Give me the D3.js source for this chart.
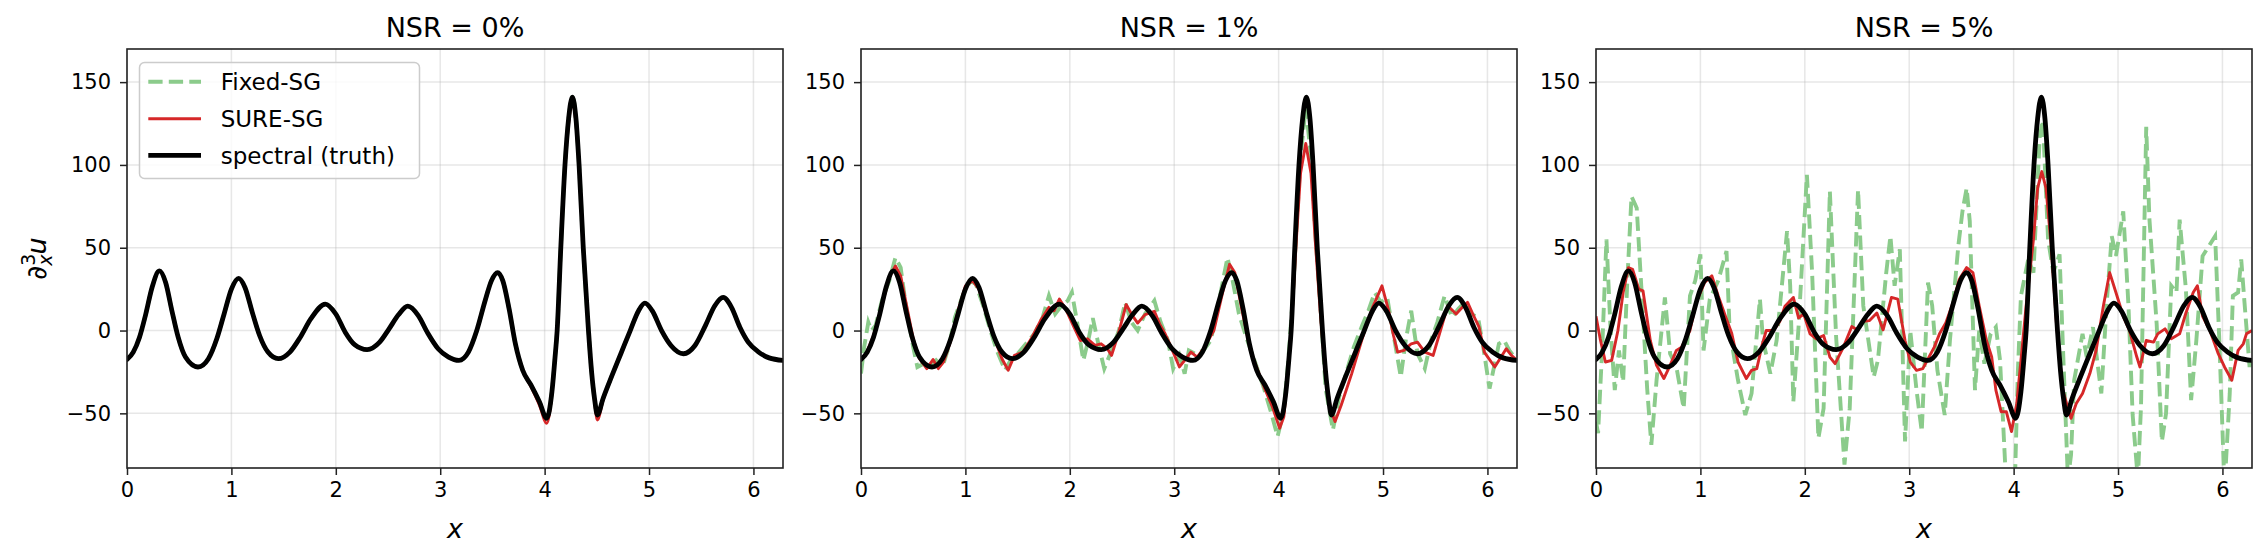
<!DOCTYPE html>
<html>
<head>
<meta charset="utf-8">
<script src="https://cdn.jsdelivr.net/npm/d3@7"></script>
<style>
  body { margin: 0; background: #fff; }
  svg { display: block; font-family: "DejaVu Sans", sans-serif; }
</style>
</head>
<body>
<svg id="chart"></svg>
<script>
// ----- DATA -----
const panelTitles = ["NSR = 0%", "NSR = 1%", "NSR = 5%"];
const seriesNames = ["Fixed-SG", "SURE-SG", "spectral (truth)"];
const xTicks = [0, 1, 2, 3, 4, 5, 6];
const yTicks = [-50, 0, 50, 100, 150];

// spectral (truth), same in all panels
const truth = [
  [0.00, -17.5], [0.06, -13], [0.12, -4], [0.18, 10], [0.24, 26], [0.31, 36], [0.37, 29],
  [0.43, 12], [0.49, -4], [0.56, -16], [0.68, -22], [0.78, -17], [0.86, -5], [0.93, 10],
  [1.00, 25], [1.07, 31.5], [1.13, 26], [1.20, 11], [1.27, -3], [1.35, -13], [1.45, -17],
  [1.56, -13], [1.66, -4], [1.76, 7], [1.90, 16], [2.00, 10], [2.09, -1], [2.18, -8.5],
  [2.30, -11.5], [2.42, -7], [2.51, 1], [2.60, 9.5], [2.69, 14.7], [2.79, 9], [2.88, -1.5],
  [2.98, -11], [3.08, -16], [3.18, -18], [3.27, -13], [3.35, 0], [3.43, 18], [3.49, 30],
  [3.55, 35], [3.60, 30], [3.66, 13], [3.72, -8], [3.79, -24], [3.87, -33], [3.95, -43],
  [4.02, -53], [4.07, -37], [4.10, -16], [4.12, 0], [4.155, 50], [4.195, 100], [4.23, 128],
  [4.266, 141], [4.30, 128], [4.33, 100], [4.37, 50], [4.42, 0], [4.45, -25], [4.48, -42],
  [4.505, -51], [4.56, -41], [4.64, -28], [4.73, -14], [4.82, 0], [4.90, 12], [4.96, 16.5],
  [5.03, 12], [5.12, 0], [5.21, -9], [5.33, -14], [5.44, -9], [5.54, 3], [5.63, 15],
  [5.71, 20], [5.79, 14], [5.87, 2], [5.95, -7], [6.05, -13], [6.15, -16.5], [6.283, -18]
];

// NSR = 0%
const sure0 = [
  [0.00, -17.5], [0.06, -13], [0.12, -4], [0.18, 10], [0.24, 26], [0.31, 36], [0.37, 29],
  [0.43, 12], [0.49, -4], [0.56, -16], [0.68, -22], [0.78, -17], [0.86, -5], [0.93, 10],
  [1.00, 25], [1.07, 31.5], [1.13, 26], [1.20, 11], [1.27, -3], [1.35, -13], [1.45, -17],
  [1.56, -13], [1.66, -4], [1.76, 7], [1.90, 16], [2.00, 10], [2.09, -1], [2.18, -8.5],
  [2.30, -11.5], [2.42, -7], [2.51, 1], [2.60, 9.5], [2.69, 14.7], [2.79, 9], [2.88, -1.5],
  [2.98, -11], [3.08, -16], [3.18, -18], [3.27, -13], [3.35, 0], [3.43, 18], [3.49, 30],
  [3.55, 35], [3.60, 30], [3.66, 13], [3.72, -8], [3.79, -24], [3.87, -34], [3.95, -45],
  [4.02, -56], [4.07, -38], [4.10, -16], [4.12, 0], [4.155, 50], [4.195, 98], [4.23, 125],
  [4.266, 137], [4.30, 125], [4.33, 98], [4.37, 50], [4.42, 0], [4.45, -26], [4.48, -44],
  [4.505, -54], [4.56, -42], [4.64, -28], [4.73, -14], [4.82, 0], [4.90, 12], [4.96, 16.5],
  [5.03, 12], [5.12, 0], [5.21, -9], [5.33, -14], [5.44, -9], [5.54, 3], [5.63, 15],
  [5.71, 20], [5.79, 14], [5.87, 2], [5.95, -7], [6.05, -13], [6.15, -16.5], [6.283, -18]
];
const fixed0 = truth; // lies under the truth curve at zero noise

// NSR = 1%
const sure1 = [
  [0, -18], [0.05, -14], [0.12, -3], [0.2, 15], [0.27, 32], [0.33, 39], [0.38, 33], [0.44, 14],
  [0.5, -5], [0.56, -17], [0.63, -23], [0.69, -17.5], [0.74, -23], [0.79, -19], [0.86, -6],
  [0.93, 12], [1.0, 27], [1.07, 30], [1.13, 25], [1.2, 10], [1.28, -5], [1.35, -17], [1.41, -24],
  [1.47, -15], [1.55, -13], [1.63, -5], [1.72, 6], [1.8, 14], [1.85, 12], [1.9, 19], [1.96, 13],
  [2.04, 2], [2.1, -6], [2.17, -5], [2.24, -9], [2.3, -8], [2.36, -11], [2.4, -15], [2.46, -3],
  [2.54, 15.7], [2.6, 9], [2.65, 4.5], [2.72, 9.6], [2.81, 11.6], [2.86, 4], [2.91, -1.6],
  [2.97, -10], [3.05, -22], [3.1, -18], [3.16, -13], [3.22, -16], [3.28, -11], [3.38, 0],
  [3.46, 22], [3.53, 40], [3.58, 35], [3.65, 12], [3.73, -12], [3.8, -24], [3.86, -34],
  [3.94, -46], [4.01, -59], [4.05, -52], [4.09, -25], [4.13, 10], [4.17, 55], [4.21, 95],
  [4.26, 113], [4.31, 95], [4.35, 55], [4.4, 10], [4.45, -28], [4.5, -48], [4.54, -55],
  [4.6, -45], [4.7, -26], [4.8, -5], [4.9, 14], [4.99, 27], [5.05, 13], [5.1, -3], [5.14, -13],
  [5.2, -12], [5.27, -8], [5.33, -7], [5.4, -13], [5.48, -15], [5.55, 0], [5.62, 15], [5.7, 10],
  [5.76, 14], [5.81, 17], [5.86, 10], [5.92, 2], [5.97, -13], [6.07, -22], [6.12, -17],
  [6.18, -11], [6.23, -15], [6.283, -18]
];
const fixed1 = [
  [0, -26], [0.03, -10], [0.07, 5], [0.1, 0], [0.14, 3], [0.2, 18], [0.27, 30], [0.33, 44],
  [0.38, 38], [0.43, 15], [0.5, -10], [0.54, -22], [0.6, -20], [0.66, -22], [0.72, -18],
  [0.78, -22], [0.84, -10], [0.9, 8], [0.98, 22], [1.05, 30], [1.1, 28], [1.17, 15], [1.24, 0],
  [1.3, -12], [1.38, -24], [1.44, -17], [1.5, -14], [1.58, -8], [1.66, -2], [1.74, 8], [1.8, 21],
  [1.86, 10], [1.92, 15], [1.98, 18], [2.02, 23], [2.07, 5], [2.13, -18], [2.18, -5], [2.22, 7.5],
  [2.28, -10], [2.33, -23], [2.4, -12], [2.47, 0], [2.53, 17], [2.59, 5], [2.65, 0], [2.72, 10],
  [2.81, 18], [2.87, 5], [2.94, -6], [2.99, -23], [3.05, -15], [3.1, -26], [3.14, -12],
  [3.2, -14], [3.28, -12], [3.35, -6], [3.42, 15], [3.51, 44], [3.56, 30], [3.62, 10], [3.7, -6],
  [3.78, -20], [3.86, -35], [3.93, -50], [3.99, -64], [4.05, -48], [4.09, -20], [4.13, 15],
  [4.17, 60], [4.21, 105], [4.26, 135], [4.31, 105], [4.35, 60], [4.4, 15], [4.45, -35],
  [4.52, -60], [4.58, -40], [4.65, -25], [4.72, -10], [4.8, 3], [4.86, 12], [4.92, 23],
  [4.98, 17], [5.04, 20], [5.11, -6], [5.17, -28], [5.22, -5], [5.27, 12], [5.33, -14],
  [5.4, -23], [5.46, -6], [5.52, 5], [5.59, 21], [5.66, 8], [5.72, 13], [5.78, 17], [5.84, 10],
  [5.91, 8], [5.96, -10], [6.02, -35], [6.07, -20], [6.11, -8], [6.16, -6], [6.21, -12],
  [6.283, -18]
];

// NSR = 5%
const sure5 = [
  [0, 8.6], [0.04, -5], [0.09, -19], [0.15, -18], [0.21, 0], [0.26, 23], [0.31, 38], [0.35, 37],
  [0.41, 25], [0.45, 24], [0.52, -6], [0.58, -21], [0.65, -29], [0.71, -21], [0.77, -12],
  [0.82, -10], [0.90, 0], [0.96, 17], [1.04, 29], [1.11, 33], [1.17, 21], [1.24, 8.6],
  [1.30, -1.6], [1.36, -19], [1.44, -29], [1.49, -24], [1.54, -23], [1.59, -9], [1.63, 0],
  [1.70, 0], [1.76, 5.5], [1.81, 14.7], [1.89, 20], [1.94, 7.6], [1.99, 10], [2.05, -2],
  [2.11, -5], [2.18, -3], [2.24, -16], [2.29, -20], [2.37, -10], [2.45, 2.4], [2.50, 0.5],
  [2.56, 5.5], [2.62, 6], [2.69, 10.6], [2.75, 0.4], [2.83, 20], [2.89, 19], [2.96, -6],
  [3.01, -19], [3.07, -24], [3.13, -23], [3.19, -16], [3.24, -10], [3.29, -2], [3.35, 4.5],
  [3.42, 17], [3.48, 31], [3.55, 38], [3.61, 35], [3.67, 15], [3.74, -6], [3.79, -16],
  [3.83, -36], [3.88, -49], [3.93, -49], [3.98, -61], [4.03, -44], [4.07, -18], [4.12, 15],
  [4.19, 55], [4.23, 86], [4.27, 96], [4.31, 86], [4.36, 51], [4.41, 4.5], [4.47, -36],
  [4.55, -53], [4.60, -44], [4.66, -38], [4.73, -26], [4.79, -12], [4.86, 15], [4.92, 35],
  [4.98, 23], [5.05, 8.6], [5.11, 0], [5.18, -16], [5.21, -22], [5.27, -6], [5.34, -7],
  [5.38, -2], [5.45, 1], [5.51, -5], [5.59, -2], [5.65, 10.6], [5.72, 23], [5.76, 27],
  [5.81, 8.6], [5.88, 0], [5.96, -14], [6.02, -22], [6.09, -30], [6.15, -12], [6.20, -8],
  [6.23, -2], [6.283, 0]
];
const fixed5 = [
  [0.0, -55], [0.02, -62], [0.06, -10], [0.10, 55], [0.14, 0], [0.18, -36], [0.22, -12],
  [0.26, -31], [0.30, 30], [0.34, 81], [0.39, 74], [0.44, 20], [0.49, -35], [0.53, -69],
  [0.58, -30], [0.62, -5], [0.66, 20], [0.71, -14], [0.77, -22], [0.84, -47], [0.90, 21],
  [0.95, 30], [1.00, 46], [1.03, -12], [1.09, 19], [1.17, 30], [1.25, 48], [1.28, 0],
  [1.36, -30], [1.43, -51], [1.49, -38], [1.57, 19], [1.60, -6], [1.67, -26], [1.73, -6],
  [1.83, 60], [1.86, 27], [1.89, -43], [1.94, 2], [2.02, 94], [2.07, 35], [2.13, -65],
  [2.18, -47], [2.24, 84], [2.30, -4], [2.38, -81], [2.43, -47], [2.51, 85], [2.56, 15],
  [2.66, -28], [2.70, -18], [2.78, 35], [2.82, 57], [2.86, 27], [2.91, 49], [2.96, -67],
  [3.01, 0], [3.07, -36], [3.12, -61], [3.18, 29], [3.22, 15], [3.27, -24], [3.34, -51],
  [3.39, -6], [3.47, 51], [3.51, 72], [3.55, 86], [3.58, 66], [3.63, -36], [3.67, 0],
  [3.72, -20], [3.78, -2], [3.83, 2], [3.87, -18], [3.93, -95], [4.01, -97], [4.04, -26],
  [4.07, 21], [4.14, 43], [4.19, 35], [4.25, 117], [4.28, 127], [4.33, 55], [4.38, 35],
  [4.44, 46], [4.47, -6], [4.52, -90], [4.55, -75], [4.58, -30], [4.66, -2], [4.70, -16],
  [4.76, 2], [4.84, -38], [4.89, 15], [4.94, 57], [4.98, 45], [5.05, 72], [5.10, 15],
  [5.14, -51], [5.19, -90], [5.22, -46], [5.27, 123], [5.30, 68], [5.37, 4], [5.42, -67],
  [5.46, -50], [5.51, 27], [5.56, 23], [5.59, 67], [5.65, 25], [5.70, -42], [5.75, -6],
  [5.81, 45], [5.85, 49], [5.93, 57], [5.97, -6], [6.02, -95], [6.07, -38], [6.10, 21],
  [6.15, 23], [6.18, 43], [6.21, 18], [6.26, -22], [6.283, -15]
];

// ----- LAYOUT -----
const width = 2267;
const height = 557;
const panelLeft = [127, 861, 1596];
const plotW = 656;
const plotTop = 49;
const plotH = 419;

const colors = { fixed: "#8bcb8b", sure: "#d62728", truth: "#000000" };
const axisColor = "#222";
const font = "'DejaVu Sans', sans-serif";

const svg = d3.select("#chart")
  .attr("width", width)
  .attr("height", height)
  .attr("viewBox", [0, 0, width, height]);

svg.append("rect").attr("width", width).attr("height", height).attr("fill", "#fff");

const panels = [
  { title: panelTitles[0], fixed: fixed0, sure: sure0 },
  { title: panelTitles[1], fixed: fixed1, sure: sure1 },
  { title: panelTitles[2], fixed: fixed5, sure: sure5 },
];

const x = d3.scaleLinear().domain([0, 2 * Math.PI]).range([0, plotW]);
const y = d3.scaleLinear().domain([-83, 170]).range([plotH, 0]);

const smooth = d3.line().x(d => x(d[0])).y(d => y(d[1])).curve(d3.curveMonotoneX);
const jagged = d3.line().x(d => x(d[0])).y(d => y(d[1]));

panels.forEach((p, i) => {
  const g = svg.append("g").attr("transform", `translate(${panelLeft[i]},${plotTop})`);

  // grid
  g.append("g").selectAll("line.gx").data(xTicks).join("line")
    .attr("x1", d => x(d)).attr("x2", d => x(d))
    .attr("y1", 0).attr("y2", plotH)
    .attr("stroke", "#b0b0b0").attr("stroke-opacity", 0.3).attr("stroke-width", 1.5);
  g.append("g").selectAll("line.gy").data(yTicks).join("line")
    .attr("x1", 0).attr("x2", plotW)
    .attr("y1", d => y(d)).attr("y2", d => y(d))
    .attr("stroke", "#b0b0b0").attr("stroke-opacity", 0.3).attr("stroke-width", 1.5);

  // lines, clipped to the axes box
  const clipId = `clip-${i}`;
  g.append("clipPath").attr("id", clipId)
    .append("rect").attr("width", plotW).attr("height", plotH);
  const lines = g.append("g").attr("clip-path", `url(#${clipId})`);

  lines.append("path").datum(p.fixed)
    .attr("fill", "none").attr("stroke", colors.fixed).attr("stroke-width", 3.9)
    .attr("stroke-dasharray", "14.3,6.2")
    .attr("d", i === 0 ? smooth : jagged);

  lines.append("path").datum(p.sure)
    .attr("fill", "none").attr("stroke", colors.sure).attr("stroke-width", 2.9)
    .attr("stroke-linejoin", "round")
    .attr("d", i === 0 ? smooth : jagged);

  lines.append("path").datum(truth)
    .attr("fill", "none").attr("stroke", colors.truth).attr("stroke-width", 4.8)
    .attr("stroke-linejoin", "round").attr("stroke-linecap", "round")
    .attr("d", smooth);

  // spines
  g.append("rect").attr("width", plotW).attr("height", plotH)
    .attr("fill", "none").attr("stroke", axisColor).attr("stroke-width", 1.6);

  // axes
  const xAxis = g.append("g").attr("transform", `translate(0,${plotH})`)
    .call(d3.axisBottom(x).tickValues(xTicks).tickFormat(d3.format("d"))
      .tickSize(7).tickPadding(7).tickSizeOuter(0));
  const yAxis = g.append("g")
    .call(d3.axisLeft(y).tickValues(yTicks).tickFormat(d3.format("d"))
      .tickSize(7).tickPadding(9).tickSizeOuter(0));
  [xAxis, yAxis].forEach(a => {
    a.select(".domain").remove();
    a.attr("font-family", font).attr("font-size", 21);
    a.selectAll(".tick line").attr("stroke", axisColor).attr("stroke-width", 1.5);
    a.selectAll(".tick text").attr("fill", "#000");
  });

  // title
  g.append("text")
    .attr("x", plotW / 2).attr("y", -12)
    .attr("text-anchor", "middle")
    .attr("font-size", 27).attr("fill", "#000")
    .text(p.title);

  // x label
  g.append("text")
    .attr("x", plotW / 2).attr("y", 538 - plotTop)
    .attr("text-anchor", "middle")
    .attr("font-size", 27).attr("font-style", "italic").attr("fill", "#000")
    .text("x");
});

// y label: ∂³ₓu
const yLab = svg.append("text")
  .attr("transform", `translate(46,${plotTop + plotH / 2}) rotate(-90)`)
  .attr("text-anchor", "middle")
  .attr("font-size", 27).attr("fill", "#000");
yLab.append("tspan").text("∂");
yLab.append("tspan").attr("font-size", 19).attr("dy", -11).text("3");
yLab.append("tspan").attr("font-size", 19).attr("font-style", "italic")
  .attr("dx", -12).attr("dy", 17).text("x");
yLab.append("tspan").attr("font-style", "italic").attr("dy", -6).text("u");

// legend (first panel)
const legend = svg.append("g").attr("transform", `translate(${panelLeft[0]},${plotTop})`);
legend.append("rect")
  .attr("x", 12.5).attr("y", 13.5).attr("width", 280).attr("height", 116)
  .attr("rx", 5)
  .attr("fill", "#fff").attr("fill-opacity", 0.8)
  .attr("stroke", "#cccccc").attr("stroke-width", 1.5);

const legendItems = [
  { name: seriesNames[0], color: colors.fixed, w: 3.9, dash: "14.3,6.2" },
  { name: seriesNames[1], color: colors.sure, w: 2.9, dash: null },
  { name: seriesNames[2], color: colors.truth, w: 4.8, dash: null },
];
const rowY = [32.7, 69.7, 106.3];
legendItems.forEach((it, k) => {
  legend.append("line")
    .attr("x1", 21.3).attr("x2", 74).attr("y1", rowY[k]).attr("y2", rowY[k])
    .attr("stroke", it.color).attr("stroke-width", it.w)
    .attr("stroke-dasharray", it.dash);
  legend.append("text")
    .attr("x", 93.7).attr("y", rowY[k]).attr("dy", "0.36em")
    .attr("font-size", 23).attr("fill", "#000")
    .text(it.name);
});
</script>
</body>
</html>
